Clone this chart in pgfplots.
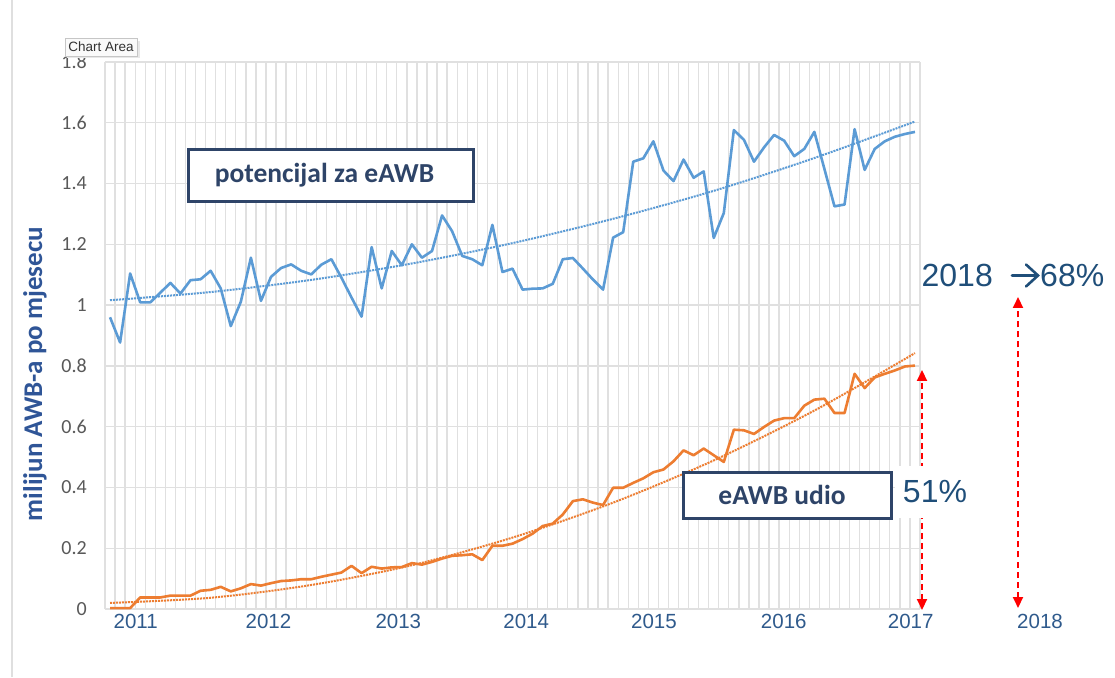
\documentclass[border=0pt]{standalone}
\usepackage{pgfplots}
\pgfplotsset{compat=1.18}
\usepackage{fontspec}
\setmainfont{Liberation Sans}
\newfontfamily\carlito{Carlito}
\usetikzlibrary{arrows.meta}
\definecolor{sblue}{HTML}{5B9BD5}
\definecolor{sorange}{HTML}{ED7D31}
\definecolor{navy}{HTML}{2E4468}
\definecolor{yearblue}{HTML}{2F5A8C}
\definecolor{pctblue}{HTML}{1F4E79}
\definecolor{labelblue}{HTML}{2F5597}
\definecolor{gridgray}{HTML}{E0E0E0}
\definecolor{ticktext}{HTML}{595959}

\begin{document}
\begin{tikzpicture}[x=1pt,y=1pt]
\path[use as bounding box] (0,0) rectangle (1115,677);
\fill[white] (0,0) rectangle (1115,677);
\draw[gray!25, line width=1.2pt] (12,0) -- (12,677);
\begin{axis}[
  at={(105pt,68pt)}, anchor=south west,
  width=815pt, height=547pt, scale only axis,
  xmin=-0.5, xmax=80.5, ymin=0, ymax=1.8,
  ytick={0,0.2,0.4,0.6,0.8,1,1.2,1.4,1.6,1.8},
  yticklabels={0,0.2,0.4,0.6,0.8,1,1.2,1.4,1.6,1.8},
  xtick={2.55,15.75,28.65,41.36,54.06,66.96,79.58},
  xticklabels={2011,2012,2013,2014,2015,2016,2017},
  minor xtick={-0.5,0.5,...,80.5},
  xminorgrids=true, ymajorgrids=true, xmajorgrids=false,
  major grid style={gridgray, line width=1.4pt},
  minor grid style={gridgray, line width=1.3pt},
  axis line style={draw=none},
  major tick length=0pt, minor tick length=0pt,
  yticklabel style={font=\carlito\fontsize{20}{20}\selectfont, text=ticktext, inner sep=0pt, xshift=-18pt},
  xticklabel style={font=\fontsize{20.5}{20.5}\selectfont, text=yearblue, inner sep=0pt, yshift=-5pt},
  clip=false,
]
% blue trend
\addplot[sblue, line width=2pt, densely dotted, smooth] coordinates {
(0,1.016) (10,1.043) (20,1.083) (30,1.137) (40,1.204) (50,1.284) (60,1.376) (70,1.484) (80,1.604)};
% orange trend
\addplot[sorange, line width=2pt, densely dotted, smooth] coordinates {
(0,0.020) (10,0.037) (20,0.079) (30,0.144) (40,0.235) (50,0.350) (60,0.489) (70,0.653) (80,0.842)};
% blue series
\addplot[sblue, line width=2.6pt, line join=round] coordinates {
(0,0.960) (1,0.877) (2,1.104) (3,1.009) (4,1.009) (5,1.041) (6,1.073) (7,1.038) (8,1.082) (9,1.085)
(10,1.113) (11,1.055) (12,0.931) (13,1.011) (14,1.156) (15,1.014) (16,1.093) (17,1.122) (18,1.134) (19,1.113)
(20,1.101) (21,1.133) (22,1.151) (23,1.090) (24,1.025) (25,0.962) (26,1.191) (27,1.055) (28,1.178) (29,1.131)
(30,1.200) (31,1.156) (32,1.178) (33,1.295) (34,1.243) (35,1.162) (36,1.151) (37,1.131) (38,1.264) (39,1.109)
(40,1.120) (41,1.051) (42,1.054) (43,1.055) (44,1.070) (45,1.151) (46,1.155) (47,1.120) (48,1.084) (49,1.051)
(50,1.222) (51,1.240) (52,1.472) (53,1.483) (54,1.539) (55,1.443) (56,1.408) (57,1.479) (58,1.419) (59,1.440)
(60,1.221) (61,1.303) (62,1.576) (63,1.544) (64,1.472) (65,1.519) (66,1.560) (67,1.541) (68,1.490) (69,1.514)
(70,1.570) (71,1.448) (72,1.325) (73,1.331) (74,1.579) (75,1.445) (76,1.514) (77,1.539) (78,1.554) (79,1.563)
(80,1.570)};
% orange series
\addplot[sorange, line width=2.6pt, line join=round] coordinates {
(0,0.003) (1,0.003) (2,0.003) (3,0.038) (4,0.038) (5,0.038) (6,0.044) (7,0.044) (8,0.044) (9,0.060)
(10,0.063) (11,0.073) (12,0.058) (13,0.068) (14,0.082) (15,0.077) (16,0.085) (17,0.092) (18,0.094) (19,0.098)
(20,0.098) (21,0.106) (22,0.113) (23,0.120) (24,0.142) (25,0.118) (26,0.139) (27,0.133) (28,0.137) (29,0.138)
(30,0.151) (31,0.146) (32,0.155) (33,0.166) (34,0.175) (35,0.177) (36,0.180) (37,0.161) (38,0.208) (39,0.208)
(40,0.215) (41,0.230) (42,0.248) (43,0.273) (44,0.281) (45,0.311) (46,0.355) (47,0.361) (48,0.350) (49,0.342)
(50,0.399) (51,0.399) (52,0.415) (53,0.430) (54,0.450) (55,0.459) (56,0.486) (57,0.522) (58,0.506) (59,0.528)
(60,0.506) (61,0.484) (62,0.590) (63,0.588) (64,0.576) (65,0.599) (66,0.620) (67,0.628) (68,0.628) (69,0.669)
(70,0.689) (71,0.692) (72,0.645) (73,0.645) (74,0.774) (75,0.727) (76,0.762) (77,0.774) (78,0.785) (79,0.798)
(80,0.801)};
\end{axis}
% y label
\node[rotate=90, font=\carlito\bfseries\fontsize{27}{27}\selectfont, text=labelblue] at (35,303) {milijun AWB-a po mjesecu};
% Chart Area tooltip
\fill[gray!18] (67,619) rectangle (140,636);
\draw[gray!45, fill=gray!4, line width=0.6pt] (65,621) rectangle (137,639);
\node[font=\fontsize{13.5}{13.5}\selectfont, text=black!80] at (101,630) {Chart Area};
% boxes
\draw[navy, line width=3.3pt, fill=white] (188.5,527.5) rectangle (473.5,475.5);
\node[font=\carlito\bfseries\fontsize{27.5}{27.5}\selectfont, text=navy] at (324.5,502) {potencijal za eAWB};
\draw[navy, line width=3.3pt, fill=white] (683.5,204.5) rectangle (891.5,158.5);
\node[font=\carlito\bfseries\fontsize{27.5}{27.5}\selectfont, text=navy] at (782,182) {eAWB udio};
% red arrows
\draw[red, line width=2pt, dash pattern=on 6pt off 4pt, {Triangle[width=10pt,length=11pt]}-{Triangle[width=10pt,length=11pt]}] (922,67) -- (922,307);
\draw[red, line width=2pt, dash pattern=on 6pt off 4pt, {Triangle[width=10pt,length=11pt]}-{Triangle[width=10pt,length=11pt]}] (1018,69) -- (1018,380);
% labels
\node[fill=white, minimum width=80pt, minimum height=52pt, inner sep=0pt, font=\fontsize{32}{32}\selectfont, text=pctblue] at (935,185) {51\%};
\node[anchor=east, inner sep=0pt, font=\fontsize{32}{32}\selectfont, text=pctblue] at (993,401.5) {2018};
\draw[pctblue, line width=2.6pt, line cap=round, line join=miter] (1012,401.5) -- (1037,401.5);
\draw[pctblue, line width=2.6pt, line cap=round, line join=miter] (1026,412.5) -- (1038,401.5) -- (1026,390.5);
\node[anchor=west, inner sep=0pt, font=\fontsize{32}{32}\selectfont, text=pctblue] at (1040,401.5) {68\%};
\node[font=\fontsize{20.5}{20.5}\selectfont, text=yearblue] at (1040,56) {2018};
\end{tikzpicture}
\end{document}
